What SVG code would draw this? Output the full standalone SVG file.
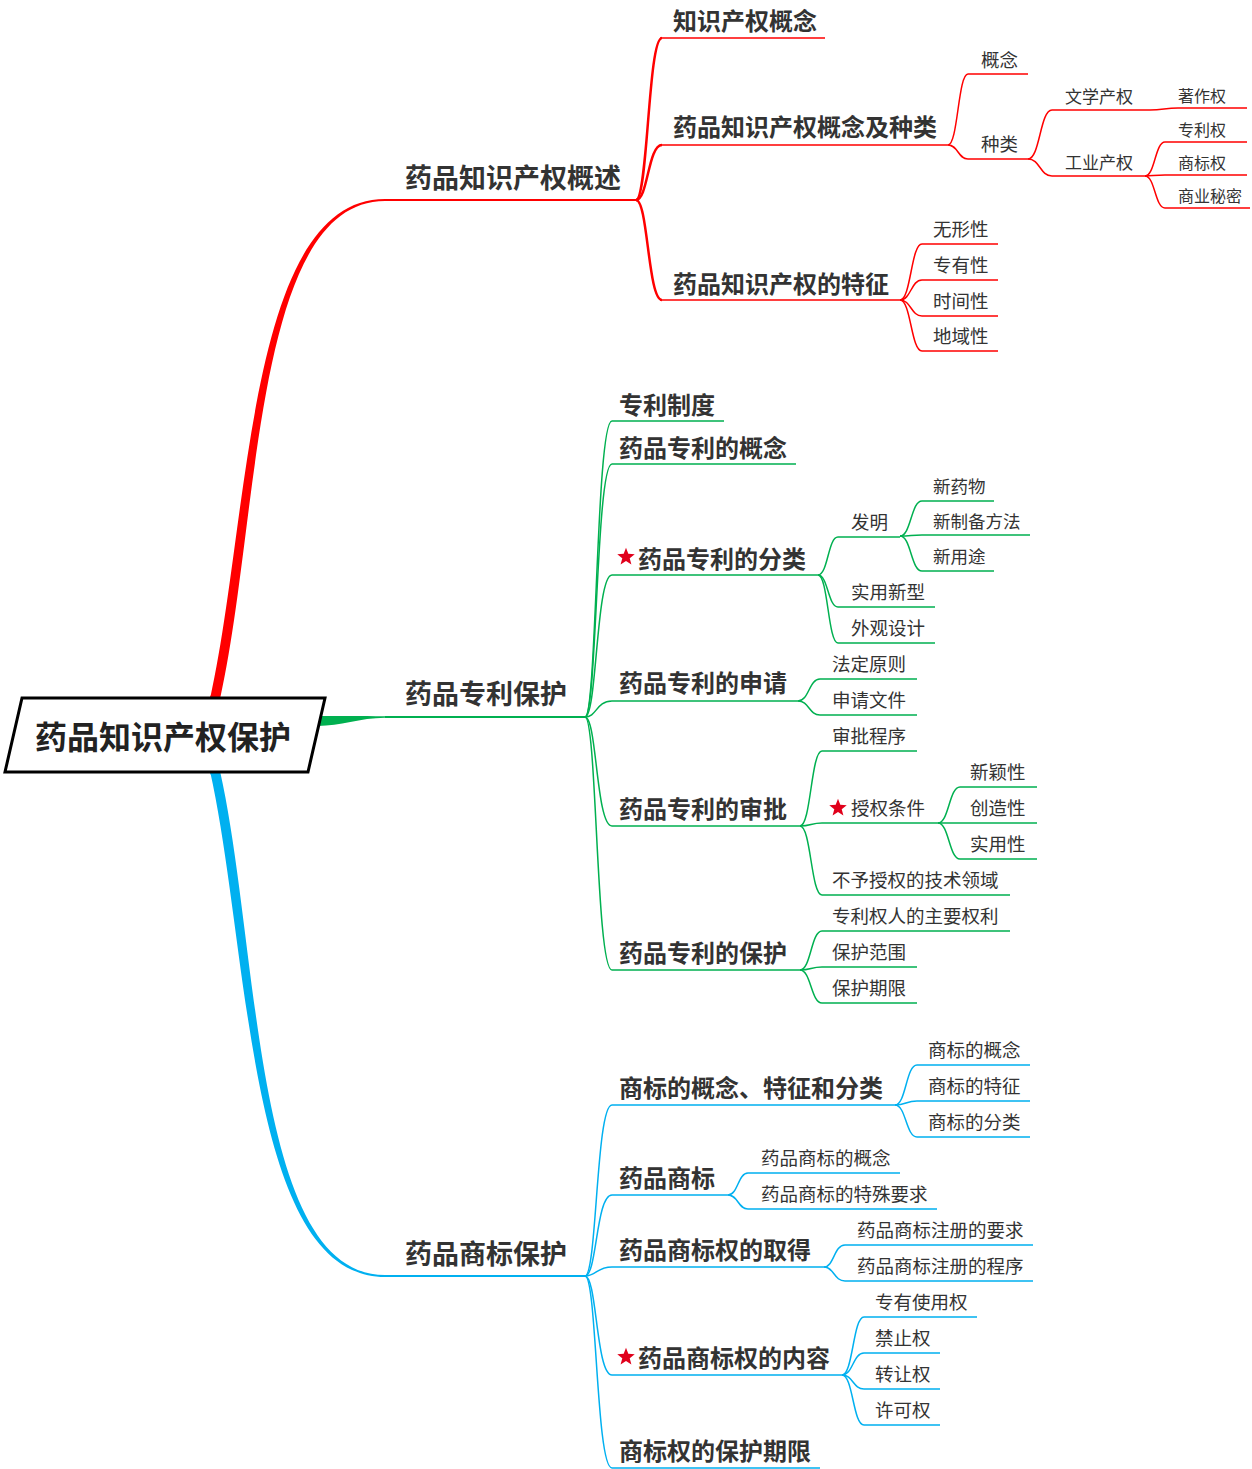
<svg xmlns="http://www.w3.org/2000/svg" xmlns:xlink="http://www.w3.org/1999/xlink" width="1252" height="1469" viewBox="0 0 1252 1469">
<style>
text{font-family:"Noto Sans CJK SC","Noto Sans",sans-serif;fill:#333}
.root{font-size:32px;font-weight:bold;fill:#222}
.t1{font-size:27px;font-weight:bold}
.t2{font-size:24px;font-weight:bold}
.t3{font-size:18.5px}
.t3s{font-size:17.5px}
.t4{font-size:16px}
.r{fill:none;stroke:#ff0000}
.g{fill:none;stroke:#00b050}
.b{fill:none;stroke:#00b0f0}
.w1{stroke-width:1.5}
.w2{stroke-width:2}
.w3{stroke-width:2.5}
</style>
<defs>
<polygon id="star" fill="#e0001b" points="0,-9.2 2.3,-3.2 8.75,-2.84 3.71,1.21 5.4,7.44 0,3.9 -5.4,7.44 -3.71,1.21 -8.75,-2.84 -2.3,-3.2"/>
</defs>
<rect width="1252" height="1469" fill="#fff"/>
<g id="connectors">
<path fill="#ff0000" d="M210,699 C250,520 247,199 385,199 L385,201 C253,201 260,520 220,699 Z"/>
<circle cx="215" cy="698" r="5" fill="#ff0000"/>
<path class="r w2" d="M385,200 H636"/>
<path fill="#00b050" d="M318,716 C340,716 360,716 385,716.2 L385,717.8 C360,718 340,726 318,726 Z"/>
<circle cx="318" cy="721" r="5" fill="#00b050"/>
<path class="g w2" d="M385,717 H585"/>
<path fill="#00b0f0" d="M210,771 C250,950 247,1277 385,1277 L385,1275 C253,1275 260,950 220,771 Z"/>
<circle cx="215" cy="772" r="5" fill="#00b0f0"/>
<path class="b w2" d="M385,1276 H585"/>
<path class="r w3" d="M636,200 C648,200 648,38 662,38"/>
<path class="r w3" d="M636,200 C648,200 648,145 662,145"/>
<path class="r w3" d="M636,200 C648,200 648,300 662,300"/>
<path class="r w1" d="M660,38 H825 M660,145 H948 M660,300 H900"/>
<path class="r w1" d="M948,145 C958,145 958,74 968,74 H1028"/>
<path class="r w1" d="M948,145 C958,145 958,159 968,159 H1028"/>
<path class="r w1" d="M1028,159 C1040,159 1040,110 1052,110 H1150 C1163,110 1165,108 1178,108 H1247"/>
<path class="r w1" d="M1028,159 C1040,159 1040,176 1052,176 H1145"/>
<path class="r w1" d="M1145,176 C1155,176 1155,142 1165,142 H1247"/>
<path class="r w1" d="M1145,176 C1152,176 1155,175 1165,175 H1247"/>
<path class="r w1" d="M1145,176 C1155,176 1155,208 1165,208 H1250"/>
<path class="r w1" d="M900,300 C911,300 911,244 922,244 H998"/>
<path class="r w1" d="M900,300 C911,300 911,280 922,280 H998"/>
<path class="r w1" d="M900,300 C911,300 911,316 922,316 H998"/>
<path class="r w1" d="M900,300 C911,300 911,351 922,351 H998"/>
<path class="g w1" d="M585,717 C597,717 596,421 612,421 H724"/>
<path class="g w1" d="M585,717 C597,717 596,464 612,464 H796"/>
<path class="g w1" d="M585,717 C597,717 596,575 612,575 H818"/>
<path class="g w1" d="M585,717 C597,717 596,701 612,701 H798"/>
<path class="g w1" d="M585,717 C597,717 596,826 612,826 H800"/>
<path class="g w1" d="M585,717 C597,717 596,970 612,970 H800"/>
<path class="g w1" d="M818,575 C828,575 828,537 838,537 H900"/>
<path class="g w1" d="M818,575 C828,575 828,607 838,607 H935"/>
<path class="g w1" d="M818,575 C828,575 828,643 838,643 H935"/>
<path class="g w1" d="M900,536 C911,536 911,501 922,501 H994"/>
<path class="g w1" d="M900,536 C911,536 911,535 922,535 H1030"/>
<path class="g w1" d="M900,536 C911,536 911,571 922,571 H994"/>
<path class="g w1" d="M798,701 C809,701 809,679 820,679 H917"/>
<path class="g w1" d="M798,701 C809,701 809,715 820,715 H917"/>
<path class="g w1" d="M800,826 C811,826 811,751 822,751 H917"/>
<path class="g w1" d="M800,826 C811,826 811,823 822,823 H938"/>
<path class="g w1" d="M800,826 C811,826 811,895 822,895 H1010"/>
<path class="g w1" d="M938,823 C949,823 949,787 960,787 H1037"/>
<path class="g w1" d="M938,823 C949,823 949,823 960,823 H1037"/>
<path class="g w1" d="M938,823 C949,823 949,859 960,859 H1037"/>
<path class="g w1" d="M800,970 C811,970 811,931 822,931 H1010"/>
<path class="g w1" d="M800,970 C811,970 811,967 822,967 H917"/>
<path class="g w1" d="M800,970 C811,970 811,1003 822,1003 H917"/>
<path class="b w1" d="M585,1276 C597,1276 596,1105 612,1105 H895"/>
<path class="b w1" d="M585,1276 C597,1276 596,1195 612,1195 H728"/>
<path class="b w1" d="M585,1276 C597,1276 596,1267 612,1267 H824"/>
<path class="b w1" d="M585,1276 C597,1276 596,1375 612,1375 H842"/>
<path class="b w1" d="M585,1276 C597,1276 596,1468 612,1468 H820"/>
<path class="b w1" d="M895,1105 C906,1105 906,1065 917,1065 H1030"/>
<path class="b w1" d="M895,1105 C906,1105 906,1101 917,1101 H1030"/>
<path class="b w1" d="M895,1105 C906,1105 906,1137 917,1137 H1030"/>
<path class="b w1" d="M728,1195 C738,1195 738,1173 748,1173 H900"/>
<path class="b w1" d="M728,1195 C738,1195 738,1209 748,1209 H937"/>
<path class="b w1" d="M824,1267 C834,1267 834,1245 845,1245 H1033"/>
<path class="b w1" d="M824,1267 C834,1267 834,1281 845,1281 H1033"/>
<path class="b w1" d="M842,1375 C853,1375 853,1317 864,1317 H977"/>
<path class="b w1" d="M842,1375 C853,1375 853,1353 864,1353 H940"/>
<path class="b w1" d="M842,1375 C853,1375 853,1389 864,1389 H940"/>
<path class="b w1" d="M842,1375 C853,1375 853,1425 864,1425 H940"/>
</g>
<g id="root">
<polygon points="22,698 325,698 308,772 5,772" fill="#fff" stroke="#000" stroke-width="3"/>
<text class="root" x="163" y="749" text-anchor="middle">药品知识产权保护</text>
</g>
<g id="n-overview"><text class="t1" x="405" y="188">药品知识产权概述</text></g>
<g id="n-patent"><text class="t1" x="405" y="704">药品专利保护</text></g>
<g id="n-trademark"><text class="t1" x="405" y="1264">药品商标保护</text></g>

<g id="n-ipconcept"><text class="t2" x="673" y="30">知识产权概念</text></g>
<g id="n-concepttypes"><text class="t2" x="673" y="136">药品知识产权概念及种类</text></g>
<g id="n-gainian"><text class="t3" x="981" y="67">概念</text></g>
<g id="n-zhonglei"><text class="t3" x="981" y="151">种类</text></g>
<g id="n-literary"><text class="t4" x="1065" y="103" style="font-size:17px">文学产权</text></g>
<g id="n-industrial"><text class="t4" x="1065" y="169" style="font-size:17px">工业产权</text></g>
<g id="n-copyright"><text class="t4" x="1178" y="102">著作权</text></g>
<g id="n-patentright"><text class="t4" x="1178" y="136">专利权</text></g>
<g id="n-tmright"><text class="t4" x="1178" y="169">商标权</text></g>
<g id="n-secret"><text class="t4" x="1178" y="202">商业秘密</text></g>
<g id="n-features"><text class="t2" x="673" y="293">药品知识产权的特征</text></g>
<g id="n-f1"><text class="t3" x="933" y="236">无形性</text></g>
<g id="n-f2"><text class="t3" x="933" y="272">专有性</text></g>
<g id="n-f3"><text class="t3" x="933" y="308">时间性</text></g>
<g id="n-f4"><text class="t3" x="933" y="343">地域性</text></g>

<g id="n-system"><text class="t2" x="619" y="414">专利制度</text></g>
<g id="n-pconcept"><text class="t2" x="619" y="457">药品专利的概念</text></g>
<g id="n-pclass"><use xlink:href="#star" x="626" y="557"/><text class="t2" x="638" y="568">药品专利的分类</text></g>
<g id="n-invention"><text class="t3" x="851" y="529">发明</text></g>
<g id="n-inv1"><text class="t3s" x="933" y="493">新药物</text></g>
<g id="n-inv2"><text class="t3s" x="933" y="528">新制备方法</text></g>
<g id="n-inv3"><text class="t3s" x="933" y="563">新用途</text></g>
<g id="n-utility"><text class="t3" x="851" y="599">实用新型</text></g>
<g id="n-design"><text class="t3" x="851" y="635">外观设计</text></g>
<g id="n-apply"><text class="t2" x="619" y="692">药品专利的申请</text></g>
<g id="n-a1"><text class="t3" x="832" y="671">法定原则</text></g>
<g id="n-a2"><text class="t3" x="832" y="707">申请文件</text></g>
<g id="n-exam"><text class="t2" x="619" y="818">药品专利的审批</text></g>
<g id="n-e1"><text class="t3" x="832" y="743">审批程序</text></g>
<g id="n-e2"><use xlink:href="#star" x="838" y="808"/><text class="t3" x="851" y="815">授权条件</text></g>
<g id="n-c1"><text class="t3" x="970" y="779">新颖性</text></g>
<g id="n-c2"><text class="t3" x="970" y="815">创造性</text></g>
<g id="n-c3"><text class="t3" x="970" y="851">实用性</text></g>
<g id="n-e3"><text class="t3" x="832" y="887">不予授权的技术领域</text></g>
<g id="n-protect"><text class="t2" x="619" y="962">药品专利的保护</text></g>
<g id="n-p1"><text class="t3" x="832" y="923">专利权人的主要权利</text></g>
<g id="n-p2"><text class="t3" x="832" y="959">保护范围</text></g>
<g id="n-p3"><text class="t3" x="832" y="995">保护期限</text></g>

<g id="n-tmbasic"><text class="t2" x="619" y="1097">商标的概念、特征和分类</text></g>
<g id="n-t1"><text class="t3" x="928" y="1057">商标的概念</text></g>
<g id="n-t2"><text class="t3" x="928" y="1093">商标的特征</text></g>
<g id="n-t3"><text class="t3" x="928" y="1129">商标的分类</text></g>
<g id="n-drugtm"><text class="t2" x="619" y="1187">药品商标</text></g>
<g id="n-d1"><text class="t3" x="761" y="1165">药品商标的概念</text></g>
<g id="n-d2"><text class="t3" x="761" y="1201">药品商标的特殊要求</text></g>
<g id="n-acquire"><text class="t2" x="619" y="1259">药品商标权的取得</text></g>
<g id="n-q1"><text class="t3" x="857" y="1237">药品商标注册的要求</text></g>
<g id="n-q2"><text class="t3" x="857" y="1273">药品商标注册的程序</text></g>
<g id="n-content"><use xlink:href="#star" x="626" y="1357"/><text class="t2" x="638" y="1367">药品商标权的内容</text></g>
<g id="n-r1"><text class="t3" x="875" y="1309">专有使用权</text></g>
<g id="n-r2"><text class="t3" x="875" y="1345">禁止权</text></g>
<g id="n-r3"><text class="t3" x="875" y="1381">转让权</text></g>
<g id="n-r4"><text class="t3" x="875" y="1417">许可权</text></g>
<g id="n-term"><text class="t2" x="619" y="1460">商标权的保护期限</text></g>
</svg>
